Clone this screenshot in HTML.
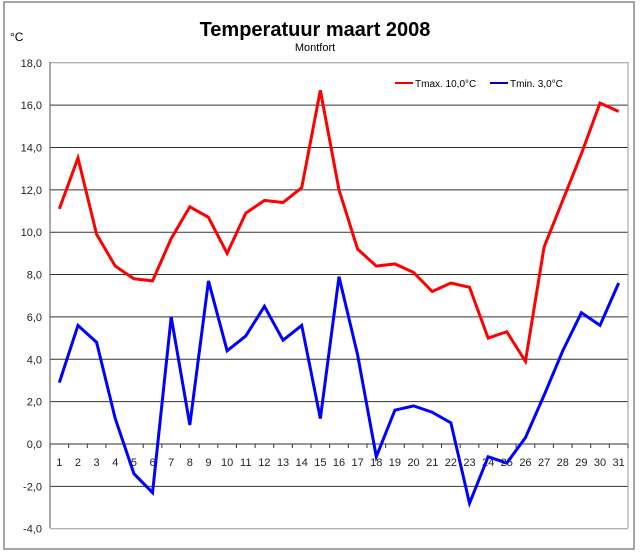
<!DOCTYPE html>
<html><head><meta charset="utf-8"><style>
body{margin:0;background:#fff;}
svg{display:block;font-family:"Liberation Sans",sans-serif;}
</style></head><body>
<svg width="640" height="553" viewBox="0 0 640 553" xmlns="http://www.w3.org/2000/svg">
<rect x="0" y="0" width="640" height="553" fill="#fff"/>
<rect x="4" y="2" width="630" height="547" fill="none" stroke="#888" stroke-width="1.5"/>
<text x="315" y="36" text-anchor="middle" font-size="20" font-weight="bold">Temperatuur maart 2008</text>
<text x="315" y="51" text-anchor="middle" font-size="11">Montfort</text>
<text x="10" y="41" font-size="12">°C</text>
<g id="grid"></g>
<g font-size="11" text-anchor="end" fill="#222" id="ylab"></g>
<g font-size="11" text-anchor="middle" fill="#222" id="xlab"></g>
<line x1="395" y1="83" x2="413" y2="83" stroke="#e00" stroke-width="2"/>
<text x="415" y="87" font-size="10">Tmax. 10,0°C</text>
<line x1="490" y1="83" x2="508" y2="83" stroke="#00a" stroke-width="2"/>
<text x="510" y="87" font-size="10">Tmin. 3,0°C</text>
<polyline id="tmax" fill="none" stroke="#f00" stroke-width="3" stroke-linejoin="miter"/>
<polyline id="tmin" fill="none" stroke="#00f" stroke-width="3" stroke-linejoin="miter"/>
</svg>
<script>
const ns="http://www.w3.org/2000/svg";
const Y=v=>444-v*21.18, X=d=>50+(d-0.5)*18.645;
const g=document.getElementById('grid'),yl=document.getElementById('ylab'),xl=document.getElementById('xlab');
function el(t,a,p,txt){const e=document.createElementNS(ns,t);for(const k in a)e.setAttribute(k,a[k]);if(txt!==undefined)e.textContent=txt;p.appendChild(e);return e;}
for(let v=-4;v<=18;v+=2){el('line',{x1:50,x2:628,y1:Y(v),y2:Y(v),stroke:v==18||v==-4?'#999':'#333','stroke-width':1},g);
el('text',{x:42,y:Y(v)+4},yl,v.toFixed(1).replace('.',','));}
el('line',{x1:50,x2:50,y1:62,y2:528,stroke:'#555'},g);
el('line',{x1:628,x2:628,y1:62,y2:528,stroke:'#999'},g);
for(let d=0;d<=31;d++){const x=50+d*18.645;el('line',{x1:x,x2:x,y1:444,y2:448,stroke:'#333'},g);}
for(let d=1;d<=31;d++)el('text',{x:X(d),y:466},xl,d);
const mx=[11.1,13.5,9.9,8.4,7.8,7.7,9.7,11.2,10.7,9.0,10.9,11.5,11.4,12.1,16.7,12.0,9.2,8.4,8.5,8.1,7.2,7.6,7.4,5.0,5.3,3.9,9.3,11.5,13.7,16.1,15.7];
const mn=[2.9,5.6,4.8,1.2,-1.4,-2.3,6.0,0.9,7.7,4.4,5.1,6.5,4.9,5.6,1.2,7.9,4.2,-0.6,1.6,1.8,1.5,1.0,-2.8,-0.6,-0.9,0.3,2.3,4.4,6.2,5.6,7.6];
document.getElementById('tmax').setAttribute('points',mx.map((v,i)=>X(i+1)+','+Y(v)).join(' '));
document.getElementById('tmin').setAttribute('points',mn.map((v,i)=>X(i+1)+','+Y(v)).join(' '));
</script>
</body></html>
